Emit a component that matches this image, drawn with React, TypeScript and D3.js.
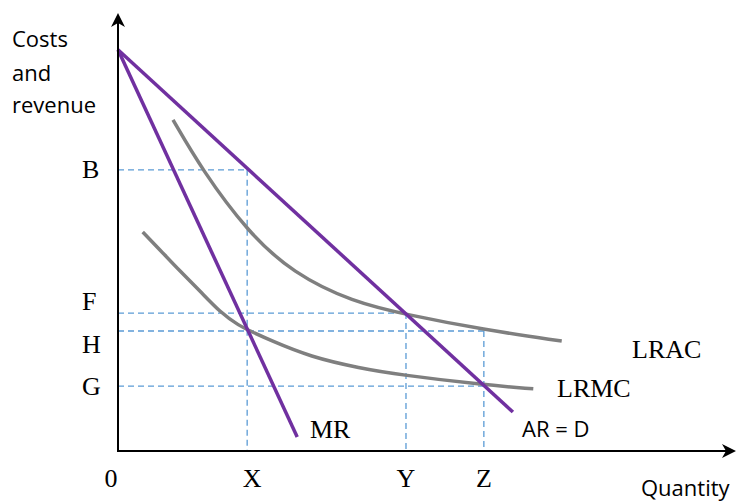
import * as d3 from "d3";

// price levels (y) and quantities (x) in chart units
const priceLabels = ["B", "F", "H", "G"];
const priceLevels = [6.42, 3.15, 2.74, 1.48];
const priceGuideEnds = [2.09, 4.66, 5.92, 5.92];

const qtyLabels = ["X", "Y", "Z"];
const qtyLevels = [2.09, 4.66, 5.92];
const qtyGuideTops = [6.42, 3.15, 2.74];

const demand: [number, number][] = [
  [0, 9.16],
  [6.39, 0.89],
];
const marginalRevenue: [number, number][] = [
  [0, 9.16],
  [2.9, 0.32],
];
const lrac: [number, number][] = [
  [0.89, 7.56],
  [1.36, 6.42],
  [2.1, 5.0],
  [2.83, 4.06],
  [3.8, 3.4],
  [4.68, 3.11],
  [5.91, 2.77],
  [7.18, 2.51],
];
const lrmc: [number, number][] = [
  [0.4, 5.0],
  [0.68, 4.59],
  [1.0, 4.11],
  [1.33, 3.65],
  [1.65, 3.17],
  [1.97, 2.85],
  [2.14, 2.74],
  [2.46, 2.53],
  [3.11, 2.15],
  [3.92, 1.89],
  [4.56, 1.74],
  [5.91, 1.51],
  [6.72, 1.42],
];

const width = 737;
const height = 501;
const x0 = 118;
const y0 = 451;

const serif = "'Liberation Serif', 'Times New Roman', serif";
const sans = "'Open Sans', 'Noto Sans', sans-serif";

export default function App() {
  const x = d3.scaleLinear().domain([0, 10]).range([x0, 736]);
  const y = d3.scaleLinear().domain([0, 10]).range([y0, 13]);

  const straight = d3
    .line<[number, number]>()
    .x((d) => x(d[0]))
    .y((d) => y(d[1]));
  const smooth = d3
    .line<[number, number]>()
    .x((d) => x(d[0]))
    .y((d) => y(d[1]))
    .curve(d3.curveBasis);

  const labelDy = [8, -3, 22, 9];
  const guide = { stroke: "#5B9BD5", strokeWidth: 1.3, strokeDasharray: "6,4" };

  return (
    <div style={{ position: "absolute", left: 0, top: 0 }}>
      <svg width={width} height={height} style={{ display: "block", background: "#fff" }}>
        {/* dashed guides */}
        {priceLevels.map((p, i) => (
          <line key={"h" + i} x1={x(0)} x2={x(priceGuideEnds[i])} y1={y(p)} y2={y(p)} {...guide} />
        ))}
        {qtyLevels.map((q, i) => (
          <line key={"v" + i} x1={x(q)} x2={x(q)} y1={y(qtyGuideTops[i])} y2={y(0)} {...guide} />
        ))}

        {/* curves */}
        <path d={smooth(lrac) ?? ""} fill="none" stroke="#7F7F7F" strokeWidth={3.5} />
        <path d={smooth(lrmc) ?? ""} fill="none" stroke="#7F7F7F" strokeWidth={3.5} />
        <path d={straight(demand) ?? ""} fill="none" stroke="#7030A0" strokeWidth={3.5} />
        <path d={straight(marginalRevenue) ?? ""} fill="none" stroke="#7030A0" strokeWidth={3.5} />

        {/* axes */}
        <line x1={x0} x2={x0} y1={y0 + 1} y2={20} stroke="#000" strokeWidth={2} />
        <line x1={x0 - 1} x2={728} y1={y0} y2={y0} stroke="#000" strokeWidth={2} />
        <path d={`M${x0},13 L${x0 - 7},27 L${x0},23 L${x0 + 7},27 Z`} fill="#000" />
        <path d={`M736,${y0} L722,${y0 - 7} L726,${y0} L722,${y0 + 7} Z`} fill="#000" />

        {/* axis titles */}
        <g fontFamily={sans} fontSize={22} fill="#000">
          <text x={12} y={47}>Costs</text>
          <text x={12} y={81}>and</text>
          <text x={12} y={113}>revenue</text>
          <text x={641} y={496}>Quantity</text>
          <text x={522} y={437}>AR = D</text>
        </g>

        {/* letters */}
        <g fontFamily={serif} fontSize={26} fill="#000">
          {priceLabels.map((l, i) => (
            <text key={l} x={82} y={y(priceLevels[i]) + labelDy[i]}>
              {l}
            </text>
          ))}
          <text x={x0 - 7} y={487} textAnchor="middle">0</text>
          {qtyLabels.map((l, i) => (
            <text key={l} x={x(qtyLevels[i]) + (i === 0 ? 5 : 0)} y={487} textAnchor="middle">
              {l}
            </text>
          ))}
          <text x={310} y={438}>MR</text>
          <text x={632} y={358}>LRAC</text>
          <text x={557} y={397}>LRMC</text>
        </g>
      </svg>
    </div>
  );
}
